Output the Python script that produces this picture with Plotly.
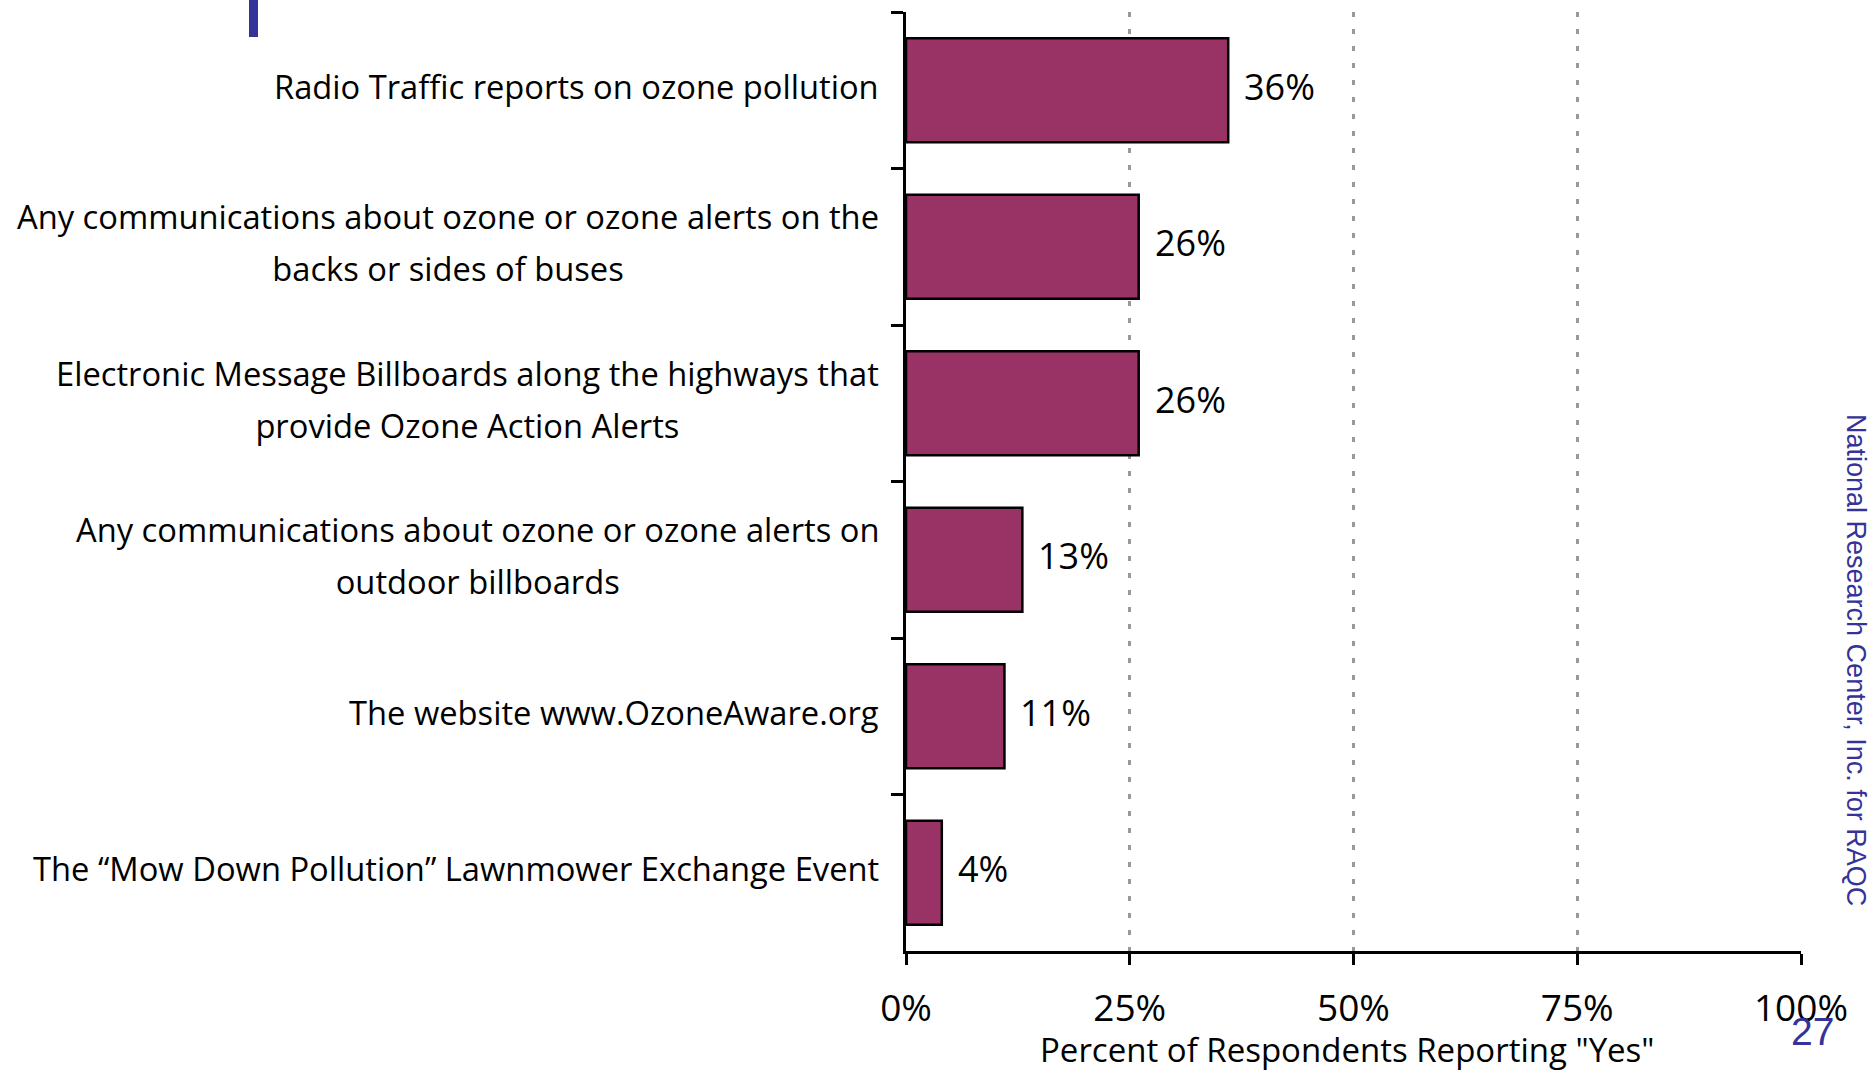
import plotly.graph_objects as go

# Survey items, top to bottom, and the share answering "Yes"
categories = [
    "Radio Traffic reports on ozone pollution",
    "Any communications about ozone or ozone alerts on the backs or sides of buses",
    "Electronic Message Billboards along the highways that provide Ozone Action Alerts",
    "Any communications about ozone or ozone alerts on outdoor billboards",
    "The website www.OzoneAware.org",
    "The \u201cMow Down Pollution\u201d Lawnmower Exchange Event",
]
label_lines = [
    ["Radio Traffic reports on ozone pollution"],
    ["Any communications about ozone or ozone alerts on the", "backs or sides of buses"],
    ["Electronic Message Billboards along the highways that", "provide Ozone Action Alerts"],
    ["Any communications about ozone or ozone alerts on", "outdoor billboards"],
    ["The website www.OzoneAware.org"],
    ["The \u201cMow Down Pollution\u201d Lawnmower Exchange Event"],
]
values = [36, 26, 26, 13, 11, 4]
x_ticks = [0, 25, 50, 75, 100]
x_tick_labels = ["0%", "25%", "50%", "75%", "100%"]
x_title = 'Percent of Respondents Reporting "Yes"'
side_note = "National Research Center, Inc. for RAQC"
page_number = "27"

W, H = 1870, 1074
L, R, T, B = 906, 69, 12, 123
PW, PH = W - L - R, H - T - B

FONT = "Open Sans"
BLUE = "#333399"


def px_x(px):
    return (px - L) / PW


def px_y(py):
    return (H - B - py) / PH


fig = go.Figure(
    go.Bar(
        x=values,
        y=categories,
        orientation="h",
        marker=dict(color="#993366", line=dict(color="#000000", width=2.5)),
        hoverinfo="skip",
    )
)

annotations = []
# Category labels: lines centred on each other, block right-aligned to the axis.
# The outer font size sets the line pitch, the inner span the glyph size.
for cat, lines in zip(categories, label_lines):
    txt = "<br>".join(f"<span style='font-size:32.7px'>{ln}</span>" for ln in lines)
    annotations.append(
        dict(
            x=px_x(881), xref="paper", xanchor="right",
            y=cat, yref="y", yanchor="middle", yshift=4,
            text=txt, align="center", showarrow=False,
            font=dict(family=FONT, size=40, color="#000000"),
        )
    )

# Value labels to the right of each bar
for cat, v in zip(categories, values):
    annotations.append(
        dict(
            x=v, xref="x", xanchor="left", xshift=14,
            y=cat, yref="y", yanchor="middle", yshift=4,
            text=f"{v}%", showarrow=False,
            font=dict(family=FONT, size=36, color="#000000"),
        )
    )

# Axis title under the tick labels
annotations.append(
    dict(
        x=px_x(1347), xref="paper", xanchor="center",
        y=px_y(1049), yref="paper", yanchor="middle",
        text=x_title, showarrow=False, borderpad=0,
        font=dict(family=FONT, size=33, color="#000000"),
    )
)

# Vertical credit line on the right edge
annotations.append(
    dict(
        x=px_x(1856), xref="paper", xanchor="center",
        y=px_y(660), yref="paper", yanchor="middle",
        text=side_note, textangle=90, showarrow=False,
        font=dict(family="Liberation Sans", size=27, color=BLUE),
    )
)
# Page number
annotations.append(
    dict(
        x=px_x(1812), xref="paper", xanchor="center",
        y=px_y(1031), yref="paper", yanchor="middle",
        text=page_number, showarrow=False,
        font=dict(family="Liberation Sans", size=39, color=BLUE),
    )
)

fig.update_layout(
    width=W, height=H,
    margin=dict(l=L, r=R, t=T, b=B, pad=0),
    paper_bgcolor="#ffffff", plot_bgcolor="#ffffff",
    bargap=0.335,
    showlegend=False,
    annotations=annotations,
    shapes=[
        dict(
            type="rect", xref="paper", yref="paper",
            x0=px_x(249), x1=px_x(258), y0=px_y(37), y1=px_y(-2),
            fillcolor=BLUE, line=dict(width=0), layer="above",
        )
    ],
    font=dict(family=FONT, color="#000000"),
)

fig.update_xaxes(
    range=[0, 100],
    tickvals=x_ticks, ticktext=x_tick_labels,
    tickfont=dict(family=FONT, size=37, color="#000000"),
    ticks="outside", ticklen=11, tickwidth=2.5, tickcolor="#000000",
    showline=True, linecolor="#000000", linewidth=2.5,
    showgrid=True, gridcolor="#999999", gridwidth=2.5, griddash="5px,12px",
    zeroline=False,
    ticklabelstandoff=12,
)

fig.update_yaxes(
    type="category",
    categoryorder="array", categoryarray=categories,
    autorange="reversed",
    tickson="boundaries",
    ticks="outside", ticklen=12, tickwidth=2.5, tickcolor="#000000",
    showticklabels=False,
    showline=True, linecolor="#000000", linewidth=2.5,
    showgrid=False, zeroline=False,
)

fig.write_html("out.html")
